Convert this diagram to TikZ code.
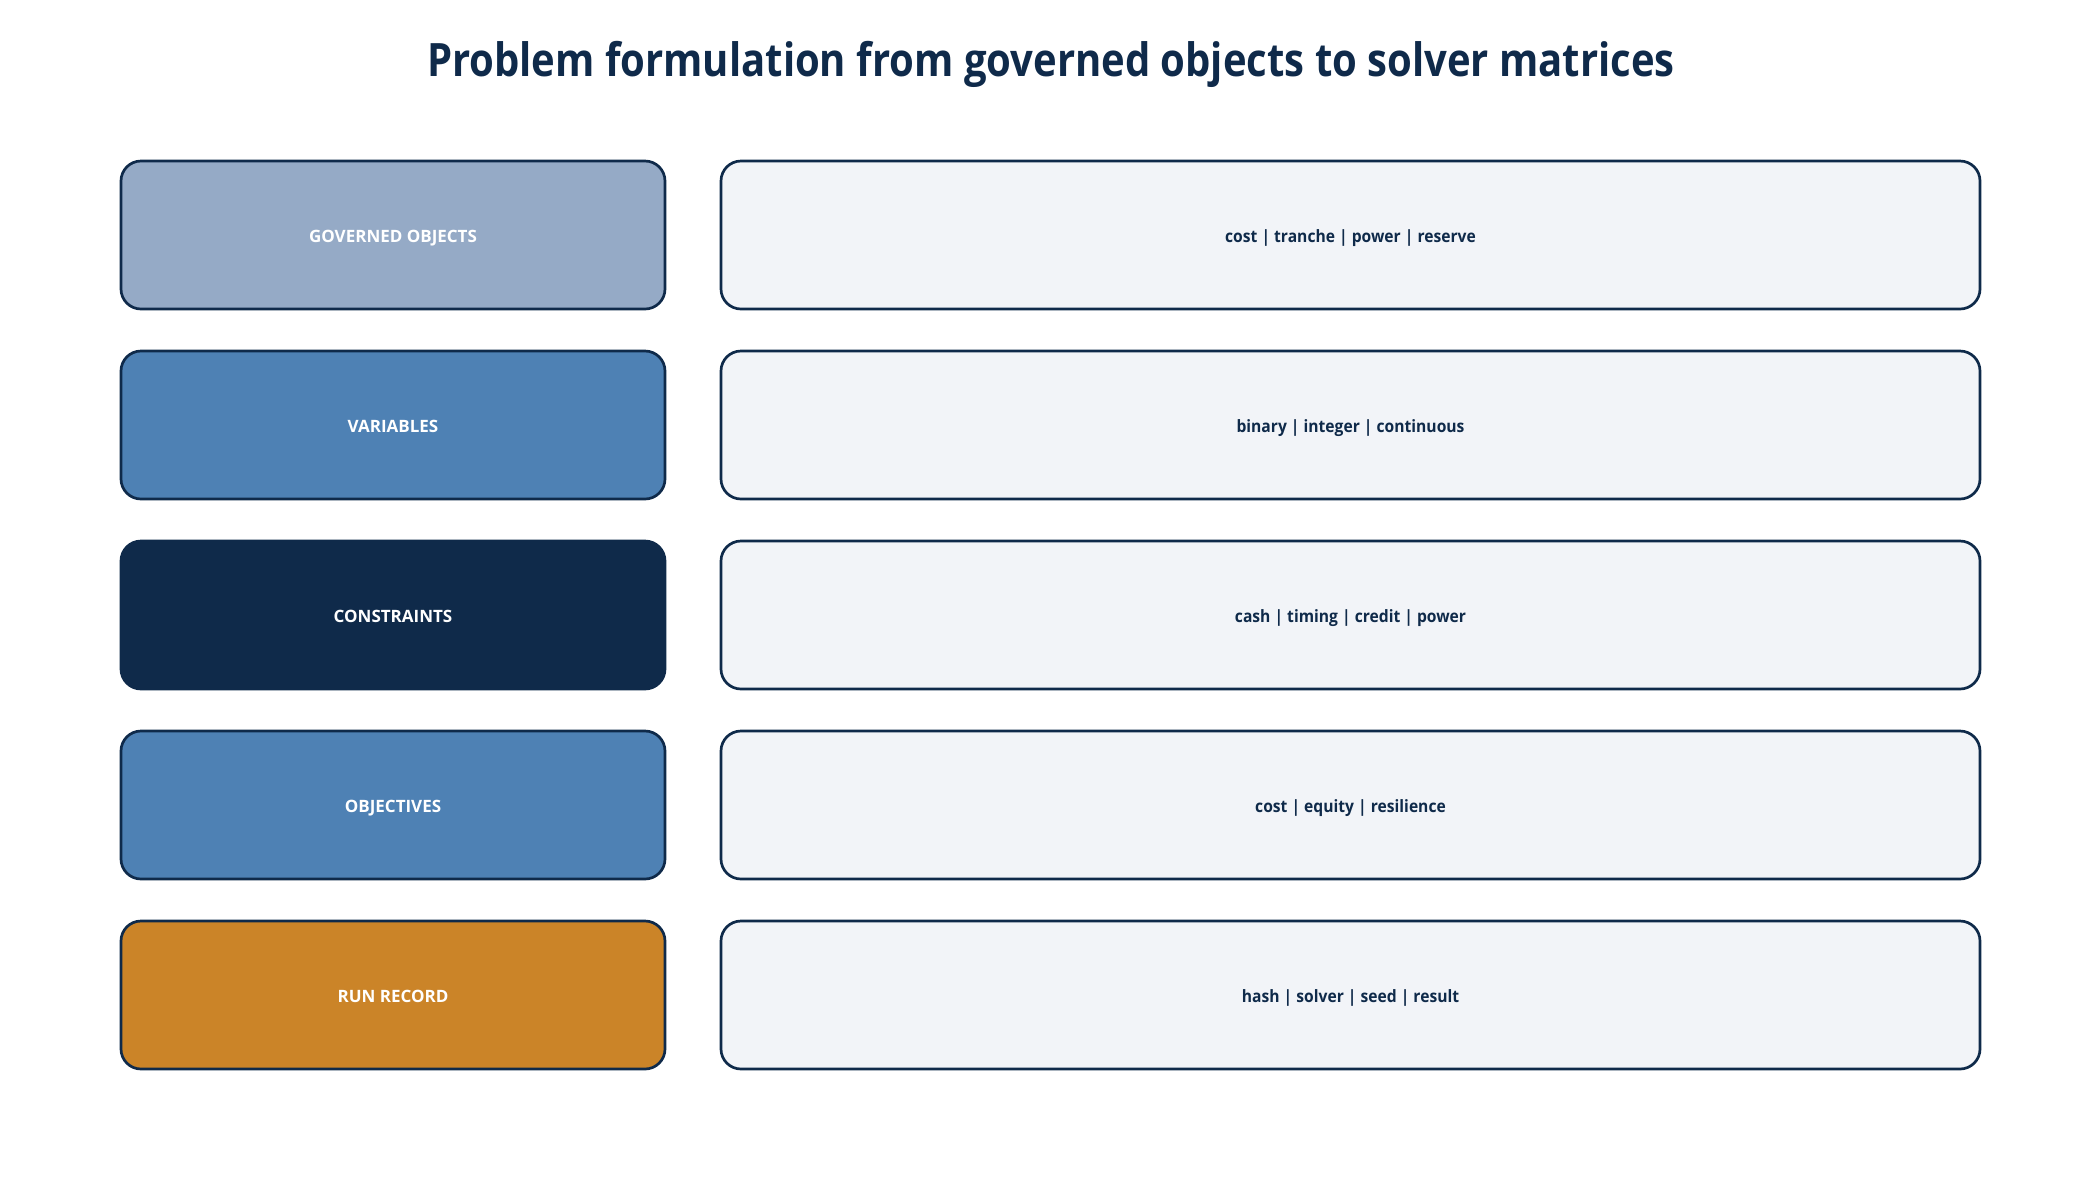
\documentclass[tikz,border=0pt]{standalone}
\usepackage{fontspec}
\setmainfont{Open Sans}
\newfontfamily\titlefont[FakeStretch=0.87]{Open Sans}
\newfontfamily\detfont[FakeStretch=0.92]{Open Sans}
\usetikzlibrary{positioning}
\definecolor{navy}{HTML}{0F2A4A}
\definecolor{cgov}{HTML}{95AAC6}
\definecolor{cmid}{HTML}{4E81B4}
\definecolor{corange}{HTML}{CB8428}
\definecolor{cpanel}{HTML}{F2F4F8}
\tikzset{
  px/.style={x=0.5pt,y=-0.5pt},
  catbox/.style={draw=navy,line width=1.35pt,rounded corners=10pt,minimum width=272pt,minimum height=74pt,inner sep=0pt,text=white,font=\bfseries\fontsize{8.5}{10}\selectfont,text depth=0pt,text height=7pt},
  detbox/.style={draw=navy,fill=cpanel,line width=1.35pt,rounded corners=10pt,minimum width=629.5pt,minimum height=74pt,inner sep=0pt,text=navy,font=\detfont\bfseries\fontsize{8.5}{10}\selectfont,text depth=0pt,text height=7pt},
  titletext/.style={text=navy,font=\titlefont\bfseries\fontsize{23}{28}\selectfont,inner sep=0pt}
}
\begin{document}
\begin{tikzpicture}[px]
\useasboundingbox (0,0) rectangle (2100,1180);
\node[titletext] (title) at (1051,64) {Problem formulation from governed objects to solver matrices};
\node[catbox,fill=cgov] (c1) at (393,235) {GOVERNED OBJECTS};
\node[catbox,fill=cmid] (c2) at (393,425) {VARIABLES};
\node[catbox,fill=navy] (c3) at (393,615) {CONSTRAINTS};
\node[catbox,fill=cmid] (c4) at (393,805) {OBJECTIVES};
\node[catbox,fill=corange] (c5) at (393,995) {RUN RECORD};
\node[detbox] (d1) at (1350.5,235) {cost | tranche | power | reserve};
\node[detbox] (d2) at (1350.5,425) {binary | integer | continuous};
\node[detbox] (d3) at (1350.5,615) {cash | timing | credit | power};
\node[detbox] (d4) at (1350.5,805) {cost | equity | resilience};
\node[detbox] (d5) at (1350.5,995) {hash | solver | seed | result};
\end{tikzpicture}
\end{document}
